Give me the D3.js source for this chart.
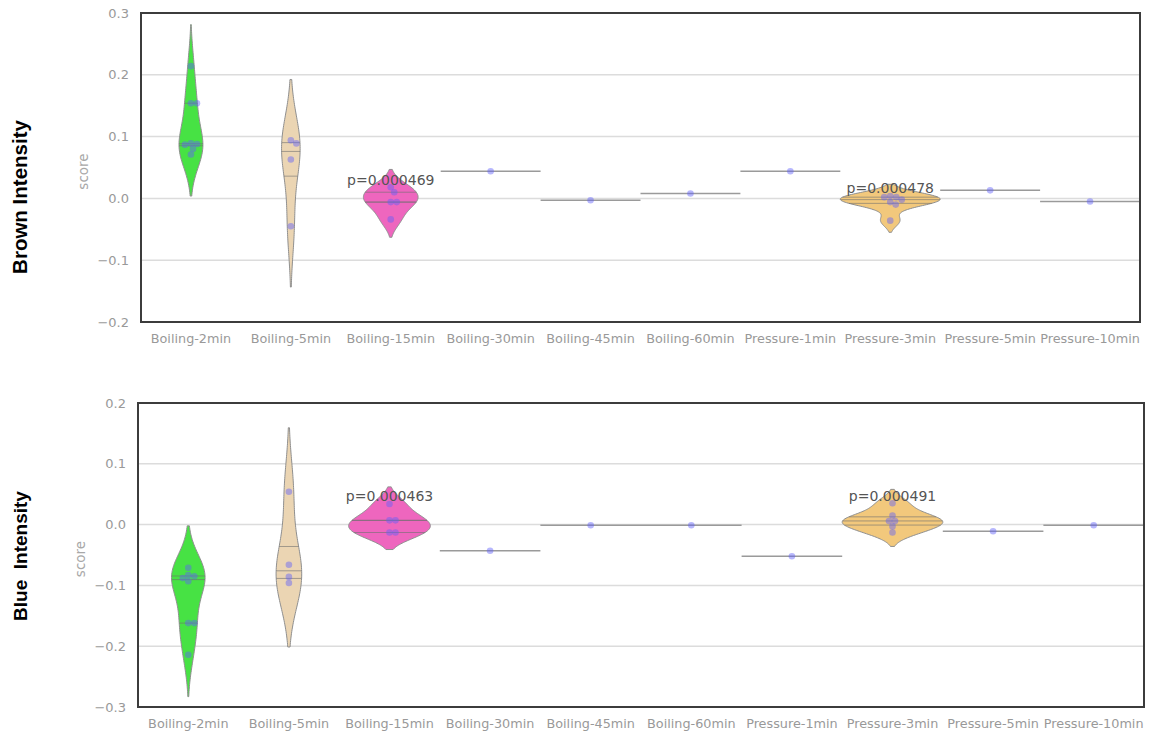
<!DOCTYPE html>
<html>
<head>
<meta charset="utf-8">
<script src="https://cdn.jsdelivr.net/npm/d3@7"></script>
<style>
  html, body { margin: 0; padding: 0; background: #fff; }
  svg { display: block; }
  text { font-family: "DejaVu Sans", sans-serif; }
</style>
</head>
<body>
<svg id="chart" width="1150" height="738"></svg>
<script>
// Treatment groups shown on both panels
const categories = [
  "Boiling-2min", "Boiling-5min", "Boiling-15min", "Boiling-30min", "Boiling-45min",
  "Boiling-60min", "Pressure-1min", "Pressure-3min", "Pressure-5min", "Pressure-10min"
];

// Brown intensity scores per group
const brownScores = [
  [0.214, 0.154, 0.154, 0.089, 0.088, 0.087, 0.080, 0.071],
  [0.094, 0.089, 0.063, -0.045],
  [0.018, 0.010, -0.006, -0.006, -0.034],
  [0.044],
  [-0.003],
  [0.008],
  [0.044],
  [0.004, 0.002, 0.002, -0.002, -0.006, -0.010, -0.036],
  [0.013],
  [-0.005]
];

// Blue intensity scores per group
const blueScores = [
  [-0.071, -0.083, -0.085, -0.088, -0.093, -0.162, -0.162, -0.214],
  [0.054, -0.066, -0.086, -0.096],
  [0.034, 0.007, 0.007, -0.013, -0.013],
  [-0.043],
  [-0.001],
  [-0.001],
  [-0.052],
  [0.035, 0.015, 0.006, 0.006, -0.003, -0.013],
  [-0.011],
  [-0.001]
];

// p-value annotations per group (empty where none)
const brownPvalues = ["", "", "p=0.000469", "", "", "", "", "p=0.000478", "", ""];
const bluePvalues  = ["", "", "p=0.000463", "", "", "", "", "p=0.000491", "", ""];

// Axis ticks
const brownTicks = [0.3, 0.2, 0.1, 0.0, -0.1, -0.2];
const blueTicks  = [0.2, 0.1, 0.0, -0.1, -0.2, -0.3];

const violinFills = ["#47e244", "#ebd5b3", "#ee66be", null, null, null, null, "#f2c87c", null, null];

const svg = d3.select("#chart");
const fmt = d3.format(".1f");

function kde(values) {
  const n = values.length;
  const sd = d3.deviation(values);
  const bw = Math.pow(n, -1 / 5) * sd;
  const lo = d3.min(values) - 2 * bw, hi = d3.max(values) + 2 * bw;
  const grid = 100;
  const pts = [];
  for (let i = 0; i < grid; i++) {
    const x = lo + (hi - lo) * i / (grid - 1);
    let s = 0;
    for (const v of values) { const z = (x - v) / bw; s += Math.exp(-0.5 * z * z); }
    pts.push([x, s / (n * bw * Math.sqrt(2 * Math.PI))]);
  }
  return pts;
}

function densityAt(pts, v) {
  for (let i = 1; i < pts.length; i++) {
    if (pts[i][0] >= v) {
      const t = (v - pts[i - 1][0]) / (pts[i][0] - pts[i - 1][0]);
      return pts[i - 1][1] + t * (pts[i][1] - pts[i - 1][1]);
    }
  }
  return pts[pts.length - 1][1];
}

// Simple beeswarm: place each point at the nearest free horizontal slot
function swarm(values, cx, y, r) {
  const placed = [];
  const sorted = values.map((v, i) => ({ v, i })).sort((a, b) => b.v - a.v);
  for (const p of sorted) {
    const py = y(p.v);
    let best = null;
    for (let k = 0; k < 40 && best === null; k++) {
      const offs = k === 0 ? [0] : [k * 0.5, -k * 0.5];
      for (const o of offs) {
        const px = cx + o;
        const ok = placed.every(q => Math.hypot(q.x - px, q.y - py) >= 2 * r - 0.5);
        if (ok) { best = px; break; }
      }
    }
    placed.push({ x: best, y: py });
  }
  return placed;
}

function panel(cfg) {
  const { left, right, top, bottom, ticks, scores, pvals, label, labelY, labelSize } = cfg;
  const g = svg.append("g");
  const x = d3.scaleBand().domain(categories).range([left, right]).padding(0);
  const y = d3.scaleLinear().domain([d3.min(ticks), d3.max(ticks)]).range([bottom, top]);
  const bw = x.bandwidth();

  // Gridlines
  g.append("g").selectAll("line").data(ticks).join("line")
    .attr("x1", left).attr("x2", right)
    .attr("y1", d => y(d)).attr("y2", d => y(d))
    .attr("stroke", "#dcdcdc").attr("stroke-width", 1.5);

  // Y axis tick labels
  const yAxis = d3.axisLeft(y).tickValues(ticks).tickSize(0).tickPadding(12)
    .tickFormat(d => fmt(d).replace("-", "\u2212"));
  const ya = g.append("g").attr("transform", `translate(${left},0)`).call(yAxis);
  ya.select(".domain").remove();
  ya.selectAll("text").attr("fill", "#999").style("font-size", "13px")
    .style("font-family", "DejaVu Sans, sans-serif");

  // X axis tick labels
  const xAxis = d3.axisBottom(x).tickSize(0).tickPadding(12);
  const xa = g.append("g").attr("transform", `translate(0,${bottom})`).call(xAxis);
  xa.select(".domain").remove();
  xa.selectAll("text").attr("fill", "#999").style("font-size", "12.8px")
    .style("font-family", "DejaVu Sans, sans-serif");

  // Densities and area scaling shared across the panel
  const dens = scores.map(v => (v.length > 1 ? kde(v) : null));
  const maxD = d3.max(dens.filter(Boolean), d => d3.max(d, p => p[1]));
  const half = bw / 2;

  categories.forEach((c, i) => {
    const cx = x(c) + bw / 2;
    const vals = scores[i];
    if (dens[i]) {
      const pts = dens[i];
      const area = d3.area()
        .y(p => y(p[0]))
        .x0(p => cx - p[1] / maxD * half)
        .x1(p => cx + p[1] / maxD * half)
        .curve(d3.curveLinear);
      g.append("path").datum(pts).attr("d", area)
        .attr("fill", violinFills[i] || "#ccc")
        .attr("stroke", "#8f8f8f").attr("stroke-width", 1);
      // Quartile lines
      const sorted = vals.slice().sort(d3.ascending);
      [0.25, 0.5, 0.75].forEach(q => {
        const v = d3.quantile(sorted, q);
        const w = densityAt(pts, v) / maxD * half;
        g.append("line")
          .attr("x1", cx - w).attr("x2", cx + w)
          .attr("y1", y(v)).attr("y2", y(v))
          .attr("stroke", "#6f6f6f").attr("stroke-opacity", 0.6).attr("stroke-width", 1);
      });
    } else {
      g.append("line")
        .attr("x1", x(c)).attr("x2", x(c) + bw)
        .attr("y1", y(vals[0])).attr("y2", y(vals[0]))
        .attr("stroke", "#9a9a9a").attr("stroke-width", 1.5);
    }
    // Observations
    const pos = swarm(vals, cx, y, 3.2);
    g.append("g").selectAll("circle").data(pos).join("circle")
      .attr("cx", d => d.x).attr("cy", d => d.y).attr("r", 3.3)
      .attr("fill", "rgb(95,95,250)").attr("fill-opacity", 0.45);

    if (pvals[i]) {
      g.append("text")
        .attr("x", cx).attr("y", y(d3.max(vals) + 0.004))
        .attr("text-anchor", "middle")
        .attr("fill", "#555").style("font-size", "14px")
        .text(pvals[i]);
    }
  });

  // Frame
  g.append("rect").attr("x", left).attr("y", top)
    .attr("width", right - left).attr("height", bottom - top)
    .attr("fill", "none").attr("stroke", "#3c3c3c").attr("stroke-width", 2);

  // Axis title
  g.append("text")
    .attr("transform", `translate(${left - 53},${(top + bottom) / 2 + 4}) rotate(-90)`)
    .attr("text-anchor", "middle").attr("fill", "#a8a8a8")
    .style("font-size", "13.5px").text("score");

  // Panel title
  g.append("text")
    .attr("transform", `translate(27,${labelY}) rotate(-90)`)
    .attr("text-anchor", "middle").attr("fill", "#000")
    .attr("xml:space", "preserve").style("white-space", "pre")
    .style("font-family", "Liberation Sans, Arial, sans-serif")
    .style("font-weight", "bold").style("font-size", labelSize + "px")
    .text(label);
}

panel({
  left: 141, right: 1140, top: 13, bottom: 322,
  ticks: brownTicks, scores: brownScores, pvals: brownPvalues,
  label: "Brown Intensity", labelY: 197, labelSize: 20.5
});

panel({
  left: 138, right: 1144, top: 403, bottom: 707,
  ticks: blueTicks, scores: blueScores, pvals: bluePvalues,
  label: "Blue  Intensity", labelY: 556, labelSize: 19
});
</script>
</body>
</html>
